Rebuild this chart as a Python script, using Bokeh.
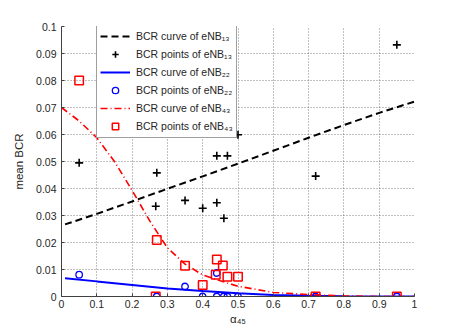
from bokeh.plotting import figure
from bokeh.models import FixedTicker, Legend, LegendItem, Range1d
from bokeh.embed import file_html
from bokeh.resources import INLINE

# ---- data ----
x_ticks = [0, 0.1, 0.2, 0.3, 0.4, 0.5, 0.6, 0.7, 0.8, 0.9, 1.0]
x_tick_labels = ["0", "0.1", "0.2", "0.3", "0.4", "0.5", "0.6", "0.7", "0.8", "0.9", "1"]
y_ticks = [0, 0.01, 0.02, 0.03, 0.04, 0.05, 0.06, 0.07, 0.08, 0.09, 0.1]
y_tick_labels = ["0", "0.01", "0.02", "0.03", "0.04", "0.05", "0.06", "0.07", "0.08", "0.09", "0.1"]

# fitted curves
curve13_x = [0.01, 0.1, 0.2, 0.3, 0.4, 0.5, 0.6, 0.7, 0.8, 0.9, 1.0]
curve13_y = [0.0267, 0.0306, 0.0352, 0.0399, 0.0445, 0.0492, 0.0540, 0.0588, 0.0635, 0.0680, 0.0722]
curve22_x = [0.01, 0.1, 0.2, 0.3, 0.4, 0.5, 0.6, 0.7, 0.8, 0.9, 1.0]
curve22_y = [0.0068, 0.0056, 0.0043, 0.0030, 0.0020, 0.0012, 0.0006, 0.0003, 0.0001, 0.0, 0.0]
curve43_x = [0.0, 0.05, 0.1, 0.15, 0.2, 0.25, 0.3, 0.35, 0.4, 0.45, 0.5, 0.6, 0.7, 0.8, 0.9, 1.0]
curve43_y = [0.0700, 0.0650, 0.0588, 0.0500, 0.0393, 0.0280, 0.0180, 0.0120, 0.0080, 0.0058, 0.0038,
             0.0015, 0.0007, 0.0002, 0.0, 0.0]

# measured points
pts13_x = [0.05, 0.27, 0.267, 0.35, 0.40, 0.44, 0.44, 0.47, 0.46, 0.50, 0.72, 0.95]
pts13_y = [0.0495, 0.0458, 0.0334, 0.0356, 0.0327, 0.0347, 0.0521, 0.0521, 0.0290, 0.0599, 0.0446, 0.0932]
pts22_x = [0.05, 0.27, 0.35, 0.40, 0.44, 0.44, 0.46, 0.47, 0.50, 0.72, 0.95]
pts22_y = [0.0081, 0.0, 0.0037, 0.0, 0.0087, 0.0, 0.0, 0.0, 0.0, 0.0, 0.0]
pts43_x = [0.05, 0.27, 0.267, 0.35, 0.40, 0.44, 0.457, 0.437, 0.47, 0.50, 0.72, 0.95]
pts43_y = [0.0800, 0.0209, 0.0, 0.0114, 0.0043, 0.0137, 0.0115, 0.0081, 0.0073, 0.0073, 0.0, 0.0]

FONT = "Liberation Sans"
TXT = "#262626"

p = figure(output_backend="svg", toolbar_location=None,
           frame_width=353, frame_height=270,
           min_border_left=61, min_border_right=36, min_border_top=26, min_border_bottom=29,
           x_range=Range1d(0, 1), y_range=Range1d(0, 0.1))
p.outline_line_color = None
p.background_fill_color = "white"
p.border_fill_color = "white"

for ax, ticks, labels in ((p.xaxis[0], x_ticks, x_tick_labels), (p.yaxis[0], y_ticks, y_tick_labels)):
    ax.ticker = FixedTicker(ticks=ticks)
    ax.major_label_overrides = {t: l for t, l in zip(ticks, labels)}
    ax.major_label_text_font = FONT
    ax.major_label_text_font_size = "10.5px"
    ax.major_label_text_color = TXT
    ax.axis_line_color = "#404040"
    ax.major_tick_line_color = "#404040"
    ax.major_tick_in = 3
    ax.major_tick_out = 0
    ax.minor_tick_line_color = None
    ax.axis_label_text_font = FONT
    ax.axis_label_text_font_style = "normal"
    ax.axis_label_text_font_size = "11.5px"
    ax.axis_label_text_color = TXT

p.xaxis.axis_label = "α₄₅"
p.xaxis.axis_label_standoff = 2
p.xaxis.major_label_standoff = 3
p.yaxis.axis_label = "mean BCR"
p.yaxis.axis_label_standoff = 8
p.yaxis.major_label_standoff = 5

p.xgrid.ticker = FixedTicker(ticks=x_ticks)
p.ygrid.ticker = FixedTicker(ticks=y_ticks)
for g in (p.xgrid[0], p.ygrid[0]):
    g.grid_line_color = "#404040"
    g.grid_line_dash = "1 2"
    g.grid_line_alpha = 0.65
    g.grid_line_width = 1

r13c = p.line(curve13_x, curve13_y, line_color="black", line_width=2, line_dash="7 4")
r13p = p.scatter(pts13_x, pts13_y, marker="cross", size=8, line_color="black", line_width=1.6)
r22c = p.line(curve22_x, curve22_y, line_color="#0000ff", line_width=2)
r22p = p.scatter(pts22_x, pts22_y, marker="circle", size=6.5, line_color="#0000ff",
                 fill_color=None, line_width=1.3)
r43c = p.line(curve43_x, curve43_y, line_color="#ff0000", line_width=1.6, line_dash="7 3 1 3")
r43p = p.scatter(pts43_x, pts43_y, marker="square", size=8.5, line_color="#ff0000",
                 fill_color=None, line_width=1.5)

legend = Legend(items=[
    LegendItem(label="BCR curve of eNB₁₃", renderers=[r13c]),
    LegendItem(label="BCR points of eNB₁₃", renderers=[r13p]),
    LegendItem(label="BCR curve of eNB₂₂", renderers=[r22c]),
    LegendItem(label="BCR points of eNB₂₂", renderers=[r22p]),
    LegendItem(label="BCR curve of eNB₄₃", renderers=[r43c]),
    LegendItem(label="BCR points of eNB₄₃", renderers=[r43p]),
], location=(35, 158))
legend.label_text_font = FONT
legend.label_text_font_size = "10.5px"
legend.label_text_color = TXT
legend.glyph_width = 30
legend.glyph_height = 16
legend.label_height = 16
legend.spacing = 2
legend.padding = 3
legend.margin = 0
legend.label_standoff = 6
legend.border_line_color = "#404040"
legend.border_line_width = 1
legend.background_fill_color = "white"
legend.background_fill_alpha = 1.0
p.add_layout(legend)

open("out.html", "w").write(file_html(p, INLINE))
